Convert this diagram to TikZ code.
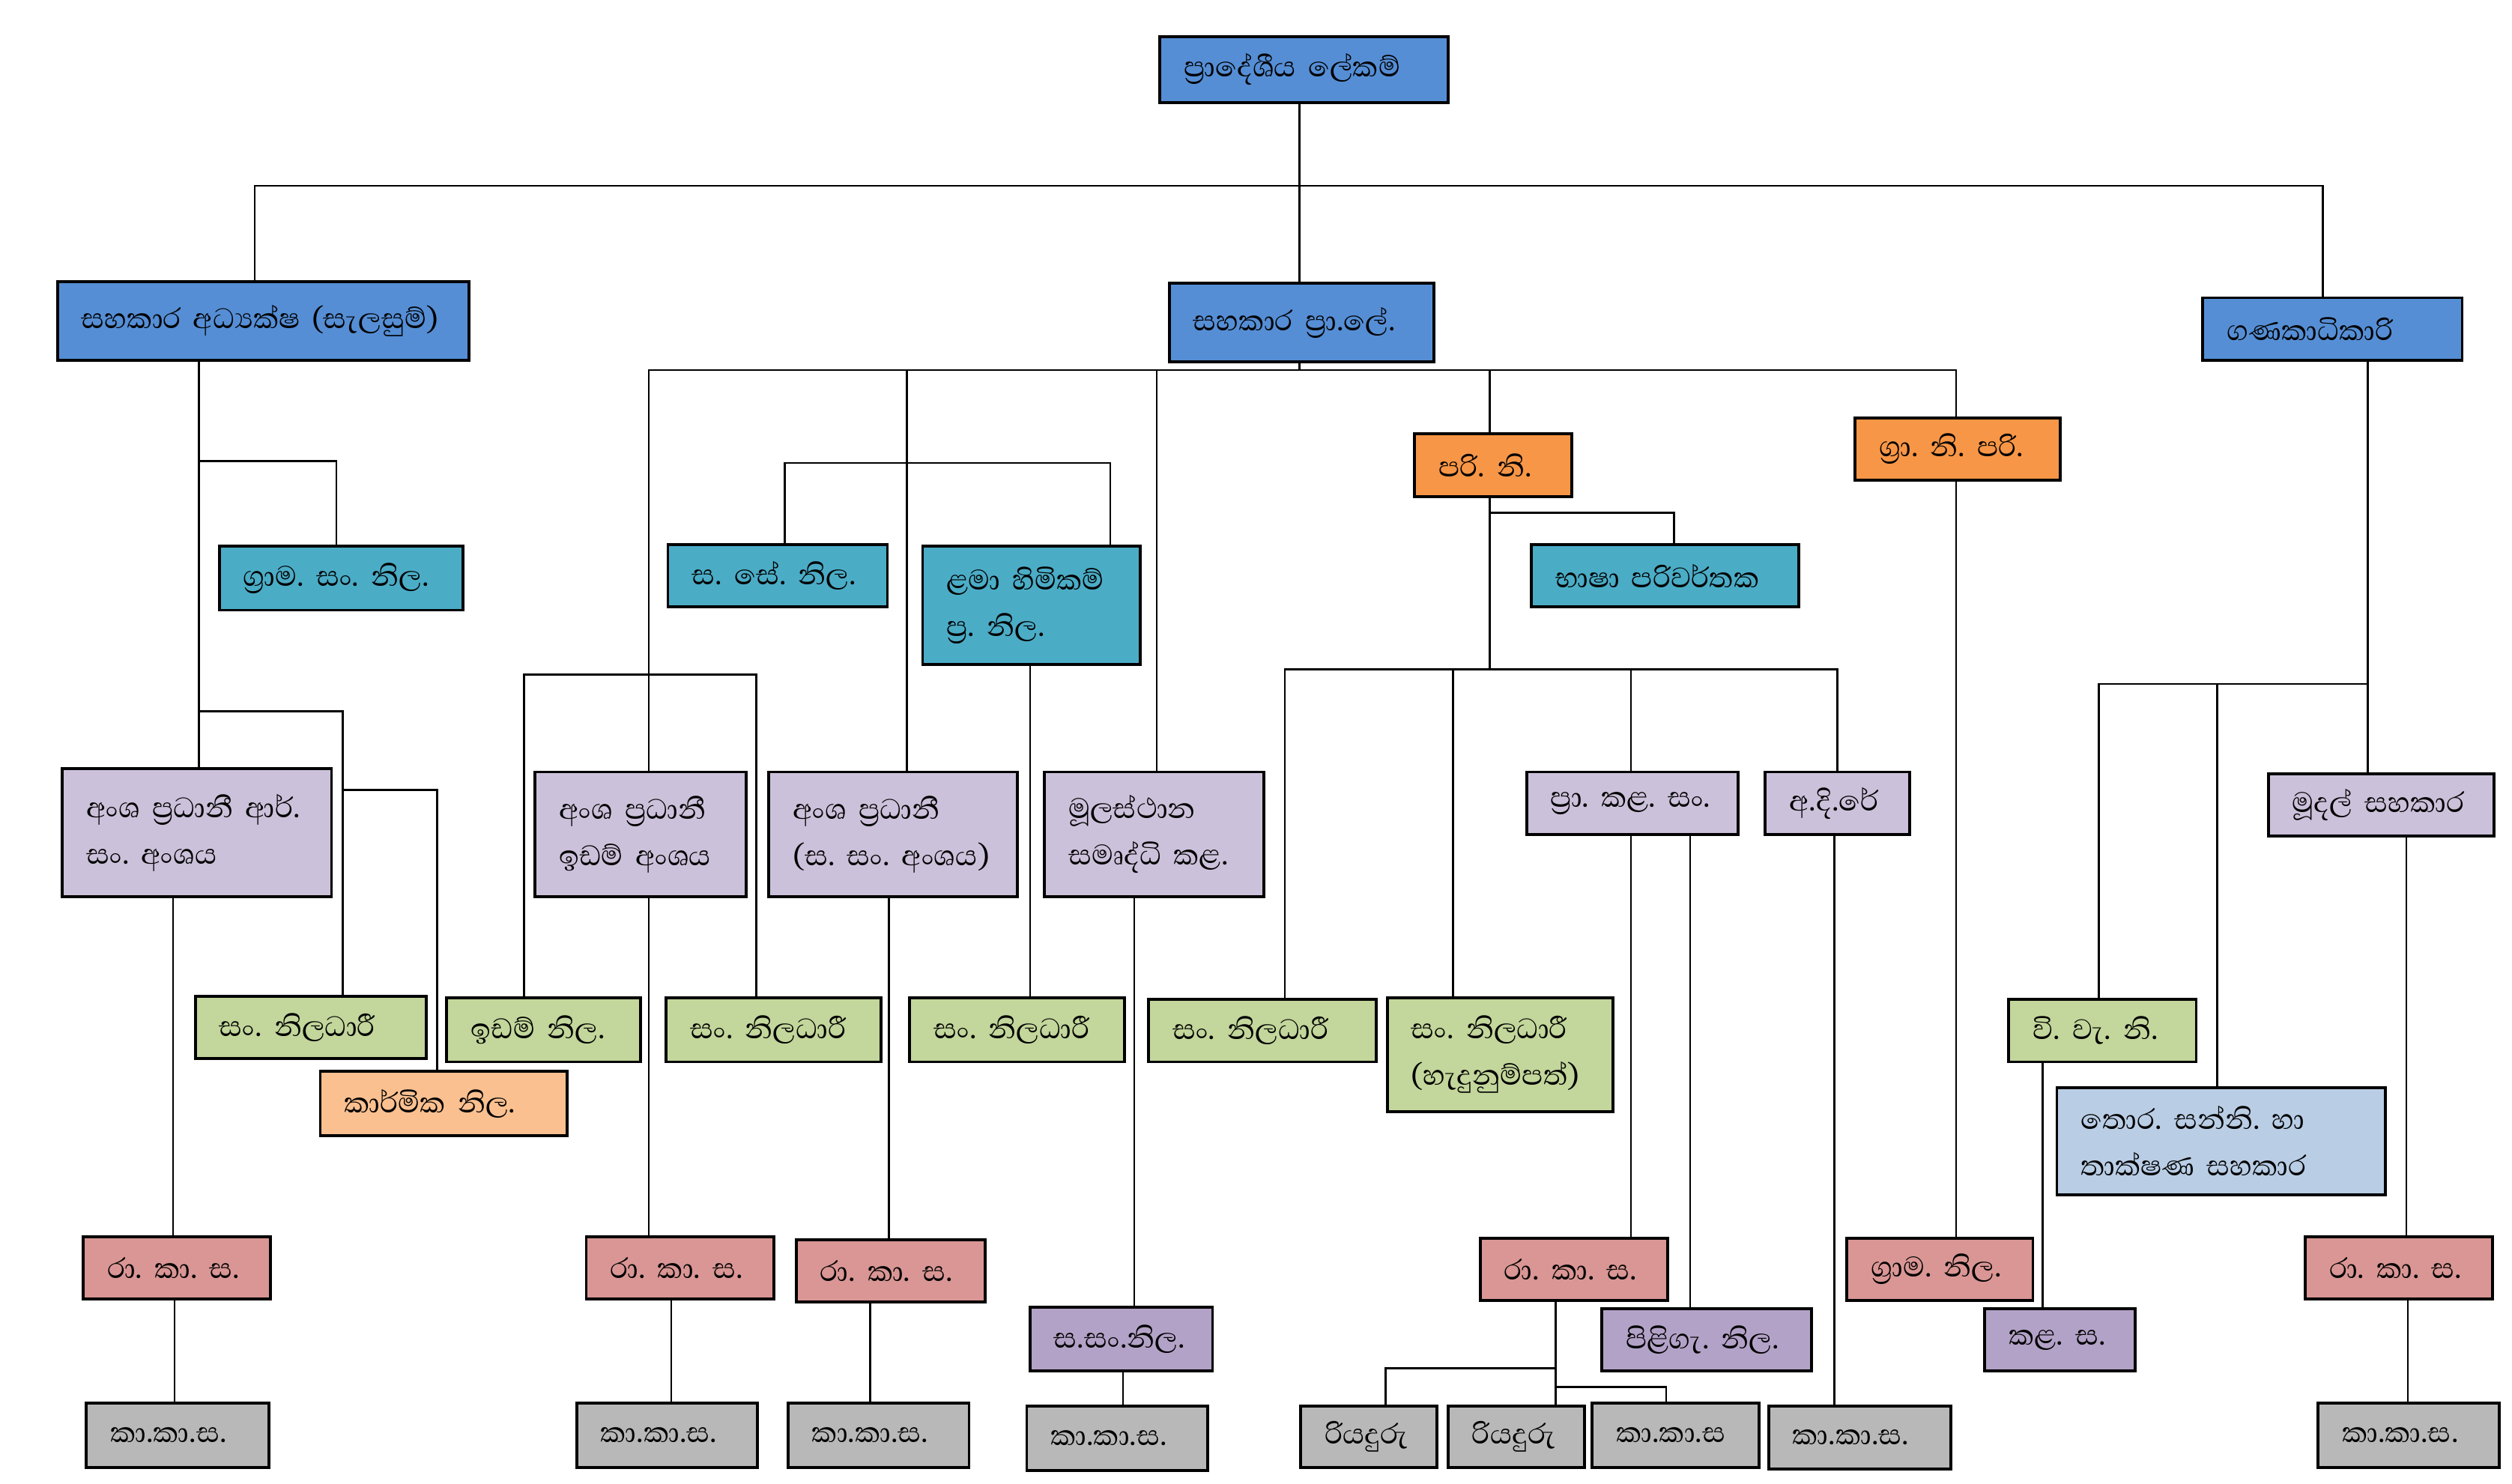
\documentclass[tikz,border=0pt]{standalone}
\usepackage{fontspec}
\newfontfamily\sinfont[Script=Sinhala]{Abhaya Libre}
\definecolor{cblue}{HTML}{558ED5}
\definecolor{cteal}{HTML}{4BACC6}
\definecolor{corange}{HTML}{F79646}
\definecolor{clav}{HTML}{CCC1DA}
\definecolor{cgreen}{HTML}{C3D69B}
\definecolor{cpeach}{HTML}{FAC090}
\definecolor{cred}{HTML}{D99694}
\definecolor{cpurple}{HTML}{B3A2C7}
\definecolor{cgray}{HTML}{B8B8B8}
\definecolor{clblue}{HTML}{B9CDE5}
\newcommand{\orgbox}[7]{%
  \pgfmathsetmacro\bw{#5-#3-30}\pgfmathsetmacro\bh{#6-#4}%
  \node[box, fill=#2, text width=\bw pt, minimum height=\bh pt] (#1) at (#3,#4) {#7};}
\def\zwj{^^^^200d}
\begin{document}
\begin{tikzpicture}[x=1pt,y=-1pt,
  box/.style={draw, line width=1.8pt, anchor=north west, align=left,
    inner xsep=15pt, inner ysep=0pt,
    font=\sinfont\fontsize{22.5}{29}\selectfont},
  conn/.style={line width=1.3pt}]
\useasboundingbox (0,0) rectangle (1568,926);
\orgbox{n0}{cblue}{723}{22}{903}{63}{ප්\zwj රාදේශීය~ලේකම්}
\orgbox{n1}{cblue}{35}{175}{292}{224}{සහකාර~අධ්\zwj යක්ෂ~(සැලසුම්)}
\orgbox{n2}{cblue}{729}{176}{894}{225}{සහකාර~ප්\zwj රා.ලේ.}
\orgbox{n3}{cblue}{1374}{185}{1536}{224}{ගණකාධිකාරි}
\orgbox{n4}{cteal}{136}{340}{288}{380}{ග්\zwj රාම.~සං.~නිල.}
\orgbox{n5}{cteal}{416}{339}{553}{378}{ස.~සේ.~නිල.}
\orgbox{n6}{cteal}{575}{340}{711}{414}{ළමා~හිමිකම්\\ප්\zwj ර.~නිල.}
\orgbox{n7}{corange}{882}{270}{980}{309}{පරි.~නි.}
\orgbox{n8}{corange}{1157}{260}{1285}{299}{ග්\zwj රා.~නි.~පරි.}
\orgbox{n9}{cteal}{955}{339}{1122}{378}{භාෂා~පරිවර්තක}
\orgbox{n10}{clav}{38}{479}{206}{559}{අංශ~ප්\zwj රධානී~ආර්.\\සං.~අංශය}
\orgbox{n11}{clav}{333}{481}{465}{559}{අංශ~ප්\zwj රධානී\\ඉඩම්~අංශය}
\orgbox{n12}{clav}{479}{481}{634}{559}{අංශ~ප්\zwj රධානී\\(ස.~සං.~අංශය)}
\orgbox{n13}{clav}{651}{481}{788}{559}{මූලස්ථාන\\සමෘද්ධි~කළ.}
\orgbox{n14}{clav}{952}{481}{1084}{520}{ප්\zwj රා.~කළ.~සං.}
\orgbox{n15}{clav}{1101}{481}{1191}{520}{අ.දි.රේ}
\orgbox{n16}{clav}{1415}{482}{1556}{521}{මූදල්~සහකාර}
\orgbox{n17}{cgreen}{121}{621}{265}{660}{සං.~නිලධාරී}
\orgbox{n18}{cpeach}{199}{668}{353}{708}{කාර්මික~නිල.}
\orgbox{n19}{cgreen}{278}{622}{399}{662}{ඉඩම්~නිල.}
\orgbox{n20}{cgreen}{415}{622}{549}{662}{සං.~නිලධාරී}
\orgbox{n21}{cgreen}{567}{622}{701}{662}{සං.~නිලධාරී}
\orgbox{n22}{cgreen}{716}{623}{858}{662}{සං.~නිලධාරී}
\orgbox{n23}{cgreen}{865}{622}{1006}{693}{සං.~නිලධාරී\\(හැදුනුම්පත්)}
\orgbox{n24}{cgreen}{1253}{623}{1370}{662}{වි.~වැ.~නි.}
\orgbox{n25}{clblue}{1283}{678}{1488}{745}{තොර.~සන්නි.~හා\\තාක්ෂණ~සහකාර}
\orgbox{n26}{cred}{51}{771}{168}{810}{රා.~කා.~ස.}
\orgbox{n27}{cred}{365}{771}{482}{810}{රා.~කා.~ස.}
\orgbox{n28}{cred}{496}{773}{614}{812}{රා.~කා.~ස.}
\orgbox{n29}{cred}{923}{772}{1040}{811}{රා.~කා.~ස.}
\orgbox{n30}{cred}{1152}{772}{1268}{811}{ග්\zwj රාම.~නිල.}
\orgbox{n31}{cred}{1438}{771}{1555}{810}{රා.~කා.~ස.}
\orgbox{n32}{cpurple}{642}{815}{756}{855}{ස.සං.නිල.}
\orgbox{n33}{cpurple}{999}{816}{1130}{855}{පිළිගැ.~නිල.}
\orgbox{n34}{cpurple}{1238}{816}{1332}{855}{කළ.~ස.}
\orgbox{n35}{cgray}{53}{875}{167}{915}{කා.කා.ස.}
\orgbox{n36}{cgray}{359}{875}{472}{915}{කා.කා.ස.}
\orgbox{n37}{cgray}{491}{875}{604}{915}{කා.කා.ස.}
\orgbox{n38}{cgray}{640}{877}{753}{917}{කා.කා.ස.}
\orgbox{n39}{cgray}{811}{877}{896}{915}{රියදුරු}
\orgbox{n40}{cgray}{903}{877}{988}{915}{රියදුරු}
\orgbox{n41}{cgray}{993}{875}{1097}{915}{කා.කා.ස}
\orgbox{n42}{cgray}{1103}{877}{1217}{916}{කා.කා.ස.}
\orgbox{n43}{cgray}{1446}{875}{1559}{915}{කා.කා.ස.}
% connectors
\draw[conn] (n0.south -| 811,0) -- (n2.north -| 811,0);
\draw[conn] (n1.north -| 159,0) -- (159,116) -- (1450,116) -- (n3.north -| 1450,0);
\draw[conn] (n1.south -| 124,0) -- (n10.north -| 124,0);
\draw[conn] (124,288) -| (n4.north -| 210,0);
\draw[conn] (124,444) -| (n17.north -| 214,0);
\draw[conn] (214,493) -| (n18.north -| 273,0);
\draw[conn] (n10.south -| 108,0) -- (n26.north -| 108,0);
\draw[conn] (n26.south -| 109,0) -- (n35.north -| 109,0);
\draw[conn] (n2.south -| 811,0) -- (811,231);
\draw[conn] (n11.north -| 405,0) -- (405,231) -- (1221,231) -- (n8.north -| 1221,0);
\draw[conn] (566,231) -- (n12.north -| 566,0);
\draw[conn] (722,231) -- (n13.north -| 722,0);
\draw[conn] (930,231) -- (n7.north -| 930,0);
\draw[conn] (n5.north -| 490,0) -- (490,289) -- (693,289) -- (n6.north -| 693,0);
\draw[conn] (n19.north -| 327,0) -- (327,421) -- (472,421) -- (n20.north -| 472,0);
\draw[conn] (n11.south -| 405,0) -- (n27.north -| 405,0);
\draw[conn] (n27.south -| 419,0) -- (n36.north -| 419,0);
\draw[conn] (n12.south -| 555,0) -- (n28.north -| 555,0);
\draw[conn] (n28.south -| 543,0) -- (n37.north -| 543,0);
\draw[conn] (n6.south -| 643,0) -- (n21.north -| 643,0);
\draw[conn] (n13.south -| 708,0) -- (n32.north -| 708,0);
\draw[conn] (n32.south -| 701,0) -- (n38.north -| 701,0);
\draw[conn] (n7.south -| 930,0) -- (930,418);
\draw[conn] (930,320) -| (n9.north -| 1045,0);
\draw[conn] (n22.north -| 802,0) -- (802,418) -- (1147,418) -- (n15.north -| 1147,0);
\draw[conn] (907,418) -- (n23.north -| 907,0);
\draw[conn] (1018,418) -- (n14.north -| 1018,0);
\draw[conn] (n14.south -| 1018,0) -- (n29.north -| 1018,0);
\draw[conn] (n14.south -| 1055,0) -- (n33.north -| 1055,0);
\draw[conn] (n29.south -| 971,0) -- (n40.north -| 971,0);
\draw[conn] (971,854) -| (n39.north -| 865,0);
\draw[conn] (971,866) -| (n41.north -| 1040,0);
\draw[conn] (n15.south -| 1145,0) -- (n42.north -| 1145,0);
\draw[conn] (n8.south -| 1221,0) -- (n30.north -| 1221,0);
\draw[conn] (n3.south -| 1478,0) -- (n16.north -| 1478,0);
\draw[conn] (1478,427) -| (n24.north -| 1310,0);
\draw[conn] (1384,427) -- (n25.north -| 1384,0);
\draw[conn] (n24.south -| 1275,0) -- (n34.north -| 1275,0);
\draw[conn] (n16.south -| 1502,0) -- (n31.north -| 1502,0);
\draw[conn] (n31.south -| 1503,0) -- (n43.north -| 1503,0);
\end{tikzpicture}
\end{document}
